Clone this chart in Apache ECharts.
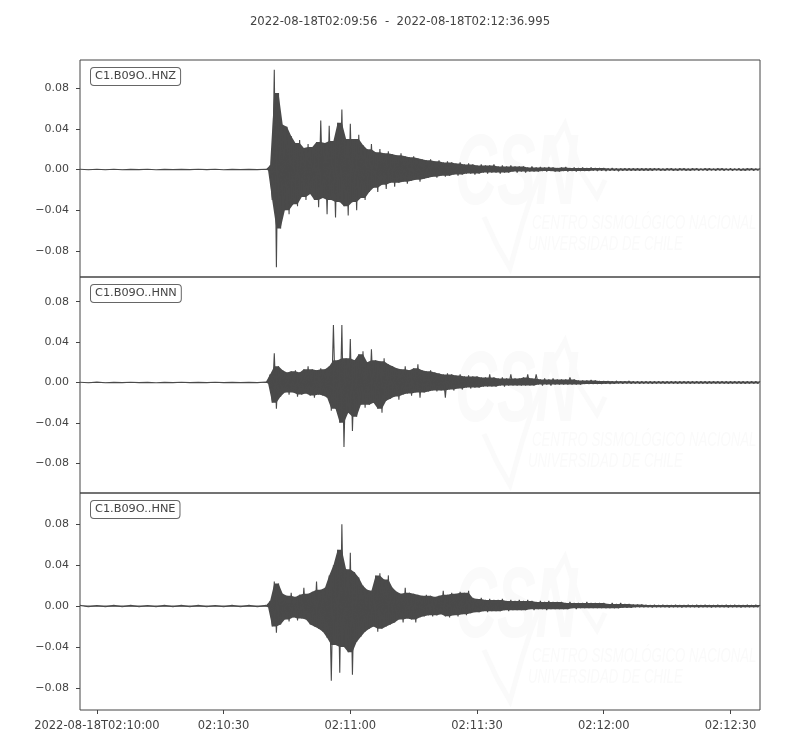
<!DOCTYPE html>
<html><head><meta charset="utf-8">
<script src="https://cdn.jsdelivr.net/npm/echarts@6/dist/echarts.min.js"></script>
<style>html,body{margin:0;padding:0;background:#fff}#c{width:800px;height:750px}</style>
</head><body><div id="c"></div><script>
// ---- data ----
const channels = ['C1.B09O..HNZ', 'C1.B09O..HNN', 'C1.B09O..HNE'];
const titleText = '2022-08-18T02:09:56  -  2022-08-18T02:12:36.995';
// seconds after 2022-08-18T02:09:56
const xMin = 0, xMax = 160.995;
const xTickSecs = [4, 34, 64, 94, 124, 154];
const xTickLabels = ['2022-08-18T02:10:00', '02:10:30', '02:11:00', '02:11:30', '02:12:00', '02:12:30'];
const yTickValues = [-0.08, -0.04, 0, 0.04, 0.08];
const yLimits = [[-0.1055, 0.1075], [-0.1095, 0.1045], [-0.1015, 0.1105]];
const preStart = 0, preStep = 2;      // pre-event noise samples
const mainStart = 44, mainStep = 0.5; // event samples (alternating peaks)

const hnzPre = [0.0002,-0.0002,0.0003,-0.0003,0.0002,-0.0002,0.0001,-0.0001,0.0002,-0.0002,0.0001,-0.0001,0.0001,-0.0001,0.0002,-0.0001,0.0003,-0.0002,0.0001,-0.0001,0.0001,-0.0001];
const hnzMain = [
0.0003,-0.0003,0.004,-0.030,0.098,-0.096,0.075,-0.058,0.044,-0.040,
0.042,-0.044,0.033,-0.034,0.026,-0.036,0.029,-0.027,0.021,-0.030,
0.025,-0.024,0.022,-0.030,0.027,-0.037,0.048,-0.028,0.026,-0.044,
0.043,-0.030,0.028,-0.047,0.046,-0.032,0.059,-0.036,0.030,-0.045,
0.045,-0.032,0.030,-0.040,0.034,-0.028,0.024,-0.030,0.020,-0.022,
0.025,-0.018,0.017,-0.022,0.020,-0.015,0.016,-0.019,0.018,-0.013,
0.015,-0.017,0.014,-0.013,0.016,-0.012,0.013,-0.014,0.012,-0.011,
0.013,-0.010,0.011,-0.012,0.010,-0.009,0.009,-0.008,0.010,-0.007,
0.008,-0.008,0.009,-0.006,0.007,-0.007,0.008,-0.006,0.007,-0.005,
0.006,-0.006,0.007,-0.005,0.005,-0.004,0.006,-0.004,0.005,-0.005,
0.004,-0.004,0.005,-0.003,0.004,-0.004,0.004,-0.003,0.005,-0.003,
0.003,-0.004,0.004,-0.003,0.003,-0.003,0.004,-0.002,0.003,-0.003,
0.003,-0.002,0.003,-0.003,0.002,-0.002,0.003,-0.002,0.002,-0.002,
0.0025,-0.0015,0.002,-0.002,0.0025,-0.0015,0.002,-0.002,0.0015,-0.002,
0.002,-0.0015,0.0025,-0.002,0.0015,-0.0015,0.002,-0.002,0.0015,-0.0015,
0.002,-0.0015,0.0015,-0.0015,0.002,-0.001,0.0015,-0.0015,0.0015,-0.001,
0.0015,-0.0015,0.001,-0.001,0.0015,-0.001,0.001,-0.0015,0.001,-0.001,
0.0012,-0.001,0.001,-0.0012,0.001,-0.001,0.0012,-0.001,0.001,-0.001,
0.001,-0.001,0.0012,-0.001,0.001,-0.0008,0.001,-0.001,0.0008,-0.001,
0.001,-0.0008,0.001,-0.001,0.0008,-0.001,0.001,-0.0008,0.001,-0.001,
0.0008,-0.001,0.001,-0.0008,0.001,-0.001,0.0008,-0.0008,0.001,-0.001,
0.001,-0.0008,0.0008,-0.001,0.001,-0.0008,0.001,-0.001,0.0008,-0.0008,
0.001,-0.001,0.0008,-0.0008,0.001,-0.001,0.0008,-0.001,0.001,-0.0008,
0.001,-0.001,0.0008,-0.0008,0.001];

const hnnPre = [0.0002,-0.0002,0.0003,-0.0002,0.0001,-0.0001,0.0002,-0.0001,0.0001,-0.0002,0.0001,-0.0001,0.0002,-0.0001,0.0001,-0.0001,0.0002,-0.0001,0.0001,-0.0001,0.0001,-0.0001];
const hnnMain = [
0.0004,-0.0004,0.008,-0.020,0.029,-0.026,0.016,-0.014,0.012,-0.010,
0.010,-0.012,0.011,-0.010,0.012,-0.014,0.010,-0.012,0.013,-0.011,
0.016,-0.013,0.013,-0.015,0.012,-0.012,0.014,-0.013,0.013,-0.015,
0.016,-0.028,0.057,-0.026,0.022,-0.040,0.057,-0.064,0.024,-0.030,
0.043,-0.048,0.022,-0.034,0.028,-0.022,0.031,-0.025,0.020,-0.022,
0.033,-0.020,0.022,-0.026,0.021,-0.030,0.024,-0.018,0.018,-0.016,
0.016,-0.014,0.014,-0.017,0.013,-0.012,0.016,-0.011,0.012,-0.013,
0.014,-0.010,0.018,-0.015,0.012,-0.010,0.011,-0.009,0.012,-0.008,
0.010,-0.009,0.009,-0.008,0.008,-0.015,0.009,-0.007,0.008,-0.008,
0.007,-0.006,0.008,-0.007,0.006,-0.005,0.007,-0.006,0.006,-0.005,
0.006,-0.005,0.005,-0.004,0.005,-0.004,0.008,-0.004,0.005,-0.004,
0.004,-0.003,0.005,-0.004,0.004,-0.003,0.008,-0.003,0.004,-0.003,
0.004,-0.003,0.005,-0.003,0.008,-0.003,0.004,-0.003,0.008,-0.002,
0.003,-0.003,0.004,-0.002,0.003,-0.003,0.004,-0.002,0.003,-0.002,
0.003,-0.002,0.003,-0.002,0.005,-0.002,0.003,-0.002,0.002,-0.002,
0.002,-0.0015,0.002,-0.0015,0.0025,-0.0015,0.002,-0.0015,0.0015,-0.0015,
0.0015,-0.0012,0.0015,-0.0015,0.0012,-0.0012,0.0015,-0.001,0.0012,-0.0012,
0.0012,-0.001,0.0015,-0.0012,0.001,-0.001,0.0012,-0.0012,0.001,-0.001,
0.0012,-0.001,0.001,-0.0012,0.001,-0.001,0.0012,-0.001,0.001,-0.001,
0.001,-0.001,0.0012,-0.001,0.001,-0.0012,0.001,-0.001,0.0012,-0.001,
0.001,-0.0012,0.001,-0.001,0.0012,-0.001,0.001,-0.001,0.0012,-0.0012,
0.001,-0.001,0.0012,-0.001,0.001,-0.001,0.0012,-0.001,0.001,-0.0012,
0.001,-0.001,0.0012,-0.001,0.001,-0.001,0.001,-0.0012,0.001,-0.001,
0.0012,-0.001,0.001,-0.001,0.001];

const hnePre = [0.0007,-0.0007,0.0006,-0.0007,0.0007,-0.0006,0.0007,-0.0007,0.0006,-0.0007,0.0007,-0.0007,0.0007,-0.0006,0.0007,-0.0007,0.0006,-0.0007,0.0007,-0.0007,0.0007,-0.0006];
const hneMain = [
0.0007,-0.0007,0.005,-0.020,0.024,-0.026,0.022,-0.018,0.012,-0.013,
0.010,-0.015,0.013,-0.011,0.009,-0.014,0.011,-0.012,0.018,-0.013,
0.012,-0.018,0.014,-0.020,0.024,-0.022,0.016,-0.025,0.018,-0.031,
0.030,-0.073,0.040,-0.038,0.055,-0.065,0.080,-0.040,0.036,-0.045,
0.052,-0.067,0.033,-0.035,0.028,-0.030,0.020,-0.025,0.016,-0.022,
0.015,-0.020,0.030,-0.025,0.032,-0.022,0.026,-0.020,0.030,-0.018,
0.018,-0.016,0.014,-0.013,0.012,-0.016,0.018,-0.012,0.013,-0.013,
0.012,-0.016,0.011,-0.011,0.010,-0.010,0.011,-0.009,0.010,-0.010,
0.009,-0.009,0.010,-0.008,0.015,-0.010,0.011,-0.011,0.013,-0.009,
0.012,-0.010,0.014,-0.008,0.013,-0.009,0.015,-0.007,0.008,-0.006,
0.007,-0.006,0.008,-0.005,0.006,-0.006,0.007,-0.005,0.006,-0.005,
0.006,-0.005,0.007,-0.004,0.005,-0.005,0.006,-0.004,0.005,-0.004,
0.006,-0.004,0.005,-0.004,0.006,-0.003,0.005,-0.004,0.004,-0.003,
0.005,-0.003,0.004,-0.004,0.005,-0.003,0.004,-0.003,0.004,-0.003,
0.004,-0.003,0.003,-0.003,0.004,-0.002,0.003,-0.003,0.003,-0.002,
0.003,-0.002,0.004,-0.002,0.003,-0.002,0.003,-0.002,0.003,-0.002,
0.003,-0.002,0.002,-0.002,0.003,-0.002,0.002,-0.002,0.003,-0.0015,
0.002,-0.0015,0.002,-0.0015,0.0015,-0.001,0.0015,-0.001,0.0015,-0.001,
0.0012,-0.001,0.001,-0.0012,0.0012,-0.001,0.001,-0.001,0.0012,-0.001,
0.001,-0.0012,0.001,-0.001,0.0012,-0.001,0.001,-0.0012,0.001,-0.001,
0.0012,-0.001,0.001,-0.001,0.0012,-0.0012,0.001,-0.001,0.0012,-0.001,
0.001,-0.0012,0.001,-0.001,0.0012,-0.001,0.001,-0.001,0.0012,-0.0012,
0.001,-0.001,0.0012,-0.001,0.001,-0.0012,0.001,-0.001,0.0012,-0.001,
0.001,-0.001,0.0012,-0.001,0.001];

const traces = [[hnzPre, hnzMain], [hnnPre, hnnMain], [hnePre, hneMain]];

// ---- layout / style ----
const gridTops = [60, 277, 493];
const gridHeights = [217, 216, 217];
const ink = '#444444';
const traceColor = '#4a4a4a';
const wmColor = '#fafafa';
const font = 'DejaVu Sans';

function buildPoints(pre, main) {
  const pts = pre.map((v, i) => [preStart + i * preStep, v]);
  return pts.concat(main.map((v, i) => [mainStart + i * mainStep, v]));
}
function fmtY(v) {
  const s = Math.abs(v).toFixed(2);
  return v < -1e-9 ? '\u2212' + s : s;
}
// dense core of one side of the trace: isolated peaks are cut to their larger neighbour,
// so they stand out as thin spikes drawn by the line series
function coreSide(side) {
  return side.map((p, j) => {
    const a = side[j - 1], b = side[j + 1];
    if (!a || !b) return p;
    const lim = Math.max(Math.abs(a[1]), Math.abs(b[1]));
    return [p[0], Math.sign(p[1]) * Math.min(Math.abs(p[1]), lim)];
  });
}

const grids = [], xAxes = [], yAxes = [], series = [], graphics = [];
traces.forEach((tr, i) => {
  const last = i === traces.length - 1;
  const pts = buildPoints(tr[0], tr[1]);
  const upSide = coreSide(pts.filter(p => p[1] >= 0));
  const loSide = coreSide(pts.filter(p => p[1] < 0));
  grids.push({left: 80, width: 680, top: gridTops[i], height: gridHeights[i],
    show: true, borderColor: ink, borderWidth: 1, backgroundColor: 'transparent'});
  xAxes.push({type: 'value', gridIndex: i, min: xMin, max: xMax, position: 'bottom',
    axisLine: {show: false, onZero: false}, splitLine: {show: false},
    axisTick: {show: last, length: 4, lineStyle: {color: ink}, customValues: xTickSecs},
    axisLabel: {show: last, customValues: xTickSecs, margin: 10, color: ink, fontSize: 11.5, fontFamily: font,
      formatter: v => { const k = xTickSecs.findIndex(s => Math.abs(s - v) < 1e-6); return k >= 0 ? xTickLabels[k] : ''; }}
  });
  yAxes.push({type: 'value', gridIndex: i, min: yLimits[i][0], max: yLimits[i][1],
    axisLine: {show: false, onZero: false}, splitLine: {show: false},
    axisTick: {show: true, length: 4, lineStyle: {color: ink}, customValues: yTickValues},
    axisLabel: {customValues: yTickValues, margin: 11, color: ink, fontSize: 11, fontFamily: font, formatter: fmtY}
  });
  // filled core of the trace
  series.push({type: 'custom', xAxisIndex: i, yAxisIndex: i, data: [[pts[0][0], 0]],
    silent: true, animation: false, z: 4,
    renderItem: (params, api) => {
      const up = upSide.map(p => api.coord(p));
      const lo = loSide.map(p => api.coord(p)).reverse();
      return {type: 'polygon', shape: {points: up.concat(lo)}, style: {fill: traceColor}};
    }});
  // the oscillating trace itself
  series.push({type: 'line', xAxisIndex: i, yAxisIndex: i, data: pts,
    showSymbol: false, symbol: 'none', sampling: null, animation: false, z: 5,
    lineStyle: {color: traceColor, width: 1.1}});
  // channel label box
  graphics.push({type: 'text', left: 90, top: gridTops[i] + 7, z: 20,
    style: {text: channels[i], fill: ink, font: '11.3px "DejaVu Sans"',
      backgroundColor: '#fff', borderColor: '#666', borderWidth: 1, borderRadius: 3, padding: [3, 4, 3, 4]}});
  // faint CSN watermark
  const wy = gridTops[i];
  graphics.push({type: 'text', x: 455, y: wy + 66, z: 0, scaleX: 0.58,
    style: {text: 'CSN', fill: wmColor, font: 'italic bold 100px "Liberation Sans"'}});
  graphics.push({type: 'polyline', z: 0, shape: {points: [[484, wy+157], [497, wy+185], [510, wy+208], [522, wy+165], [530, wy+140], [545, wy+100], [565, wy+64], [580, wy+110], [597, wy+137], [605, wy+120]]},
    style: {stroke: wmColor, lineWidth: 5, fill: null}});
  graphics.push({type: 'text', x: 532, y: wy + 153, z: 0, scaleX: 0.66,
    style: {text: 'CENTRO SISMOLÓGICO NACIONAL', fill: wmColor, font: 'italic 20px "Liberation Sans"'}});
  graphics.push({type: 'text', x: 528, y: wy + 174, z: 0, scaleX: 0.66,
    style: {text: 'UNIVERSIDAD DE CHILE', fill: wmColor, font: 'italic 20px "Liberation Sans"'}});
});

const chart = echarts.init(document.getElementById('c'), null, {renderer: 'canvas'});
chart.setOption({
  backgroundColor: '#fff',
  animation: false,
  title: {text: titleText, left: 'center', top: 11,
    textStyle: {color: ink, fontSize: 11.7, fontWeight: 'normal', fontFamily: font}},
  grid: grids, xAxis: xAxes, yAxis: yAxes, series: series,
  graphic: graphics
});
</script></body></html>
